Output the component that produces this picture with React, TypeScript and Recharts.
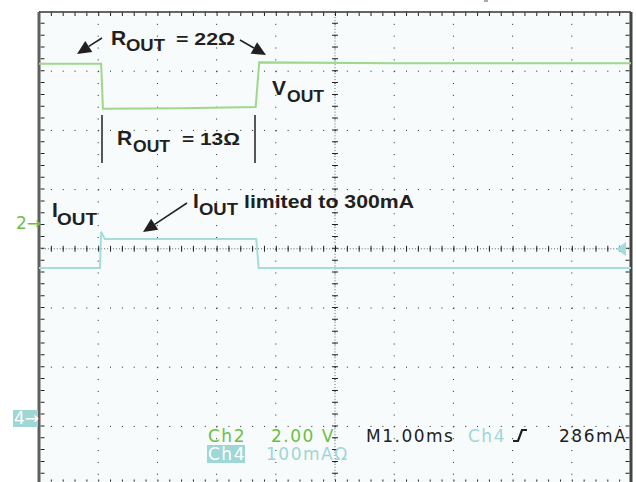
import React from 'react';
import { LineChart, Line, XAxis, YAxis, CartesianGrid, ReferenceLine } from 'recharts';

// Time base: 1.00 ms/div, 10 divisions
const timeTicks = [0, 1, 2, 3, 4, 5, 6, 7, 8, 9, 10];
// Graticule rows: 8 vertical divisions, centered on 0
const divTicks = [-4, -3, -2, -1, 0, 1, 2, 3, 4];

// Ch2: VOUT (volts), 2.00 V/div
const voutTime = [0, 1.05, 1.08, 2.4, 3.66, 3.72, 6.0, 10];
const voutVolts = [5.36, 5.36, 3.84, 3.86, 3.9, 5.41, 5.38, 5.38];

// Ch4: IOUT (mA), 100 mA/div
const ioutTime = [0, 1.03, 1.05, 1.11, 3.67, 3.71, 10];
const ioutMilliamps = [252, 252, 313, 301, 301, 252, 252];

const CH2_V_PER_DIV = 2;
const CH2_OFFSET_DIV = 0.444;
const CH4_MA_PER_DIV = 100;
const CH4_OFFSET_DIV = -2.843;

const voutData = voutTime.map((t, i) => ({ t, v: voutVolts[i] }));
const ioutData = ioutTime.map((t, i) => ({ t, i: ioutMilliamps[i] }));

const vDomain = [(-4 - CH2_OFFSET_DIV) * CH2_V_PER_DIV, (4 - CH2_OFFSET_DIV) * CH2_V_PER_DIV];
const iDomain = [(-4 - CH4_OFFSET_DIV) * CH4_MA_PER_DIV, (4 - CH4_OFFSET_DIV) * CH4_MA_PER_DIV];

const W = 636;
const H = 490;
const M = { top: 12, right: 5, bottom: 4.4, left: 39 };
const MINOR = 59.2 / 5;
const PX_DIV = 59.2;

const GREEN = '#9ed88c';
const CYAN = '#a6dcdc';
const GREEN_TXT = '#6cbf45';
const CYAN_TXT = '#9fd6d6';
const INK = '#231f20';

const ann = { fontFamily: '"Liberation Sans", Arial, sans-serif', fontWeight: 700, fill: INK } as const;
const scope = { fontFamily: '"DejaVu Sans", sans-serif', fontSize: 17, letterSpacing: 1.5 } as const;
const fit = { lengthAdjust: 'spacingAndGlyphs' } as const;

function Arrow({ x1, y1, x2, y2 }: { x1: number; y1: number; x2: number; y2: number }) {
  const dx = x2 - x1;
  const dy = y2 - y1;
  const len = Math.hypot(dx, dy);
  const ux = dx / len;
  const uy = dy / len;
  const hl = 14;
  const hw = 6.5;
  const bx = x2 - ux * hl;
  const by = y2 - uy * hl;
  return (
    <g>
      <line x1={x1} y1={y1} x2={bx} y2={by} stroke={INK} strokeWidth={1.5} />
      <polygon
        points={`${x2},${y2} ${bx - uy * hw},${by + ux * hw} ${bx + uy * hw},${by - ux * hw}`}
        fill={INK}
      />
    </g>
  );
}

const dash = `1 ${MINOR - 1}`;
const fine = `1 ${MINOR / 4 - 1}`;

export default function App() {
  return (
    <div style={{ position: 'absolute', left: 0, top: 0, width: 636, height: 482, overflow: 'hidden', background: '#fff' }}>
      <LineChart width={W} height={H} margin={M}>
        <XAxis xAxisId="t" type="number" dataKey="t" domain={[0, 10]} ticks={timeTicks} hide allowDataOverflow />
        <YAxis yAxisId="grid" type="number" domain={[-4, 4]} ticks={divTicks} hide allowDataOverflow />
        <YAxis yAxisId="v" type="number" domain={vDomain} hide allowDataOverflow />
        <YAxis yAxisId="i" type="number" domain={iDomain} hide allowDataOverflow />
        <CartesianGrid
          xAxisId="t"
          yAxisId="grid"
          stroke="#222"
          strokeDasharray={dash}
          fill="#f7fbfb"
        />
        {/* center crosshair, dotted with minor ticks */}
        <ReferenceLine xAxisId="t" yAxisId="grid" y={0} stroke="#333" strokeOpacity={0.75} strokeDasharray={fine} />
        <ReferenceLine xAxisId="t" yAxisId="grid" y={0} stroke="#222" strokeWidth={6} strokeDasharray={dash} />
        <ReferenceLine xAxisId="t" yAxisId="grid" x={5} stroke="#333" strokeOpacity={0.75} strokeDasharray={fine} />
        <ReferenceLine xAxisId="t" yAxisId="grid" x={5} stroke="#222" strokeWidth={6} strokeDasharray={dash} />
        {/* border minor ticks */}
        <ReferenceLine xAxisId="t" yAxisId="grid" y={4 - 2.5 / PX_DIV} stroke="#222" strokeWidth={3} strokeDasharray={dash} />
        <ReferenceLine xAxisId="t" yAxisId="grid" y={-4 + 5 / PX_DIV} stroke="#222" strokeWidth={2} strokeDasharray={dash} />
        <ReferenceLine xAxisId="t" yAxisId="grid" x={3.5 / PX_DIV} stroke="#222" strokeWidth={4} strokeDasharray={dash} />
        <ReferenceLine xAxisId="t" yAxisId="grid" x={10 - 3.5 / PX_DIV} stroke="#222" strokeWidth={4} strokeDasharray={dash} />
        {/* frame */}
        <ReferenceLine xAxisId="t" yAxisId="grid" y={4} stroke="#333" strokeWidth={1.5} />
        <ReferenceLine xAxisId="t" yAxisId="grid" x={0} stroke="#5f5f5f" strokeWidth={3} />
        <ReferenceLine xAxisId="t" yAxisId="grid" x={10} stroke="#444" strokeWidth={3} />
        <Line
          xAxisId="t"
          yAxisId="v"
          data={voutData}
          dataKey="v"
          type="linear"
          stroke={GREEN}
          strokeWidth={2}
          dot={false}
          isAnimationActive={false}
        />
        <Line
          xAxisId="t"
          yAxisId="i"
          data={ioutData}
          dataKey="i"
          type="linear"
          stroke={CYAN}
          strokeWidth={2}
          dot={false}
          isAnimationActive={false}
        />
      </LineChart>
      <svg
        width={636}
        height={482}
        style={{ position: 'absolute', left: 0, top: 0, pointerEvents: 'none' }}
      >
        {/* R_OUT = 22 Ohm */}
        <text x={111} y={45} fontSize={21} {...ann}>R</text>
        <text x={126} y={51} fontSize={17} textLength={39} {...fit} {...ann}>OUT</text>
        <text x={176} y={45} fontSize={16.5} textLength={59} {...fit} {...ann}>= 22Ω</text>
        <Arrow x1={102} y1={38} x2={77} y2={54} />
        <Arrow x1={240} y1={40} x2={266} y2={55} />
        {/* V_OUT */}
        <text x={272} y={95} fontSize={21} {...ann}>V</text>
        <text x={287} y={101.5} fontSize={17} textLength={37} {...fit} {...ann}>OUT</text>
        {/* R_OUT = 13 Ohm */}
        <line x1={102} y1={115} x2={102} y2={163} stroke={INK} strokeWidth={1.5} />
        <line x1={255} y1={115} x2={255} y2={163} stroke={INK} strokeWidth={1.5} />
        <text x={117} y={145} fontSize={21} {...ann}>R</text>
        <text x={133} y={151.5} fontSize={17} textLength={37} {...fit} {...ann}>OUT</text>
        <text x={182} y={145} fontSize={16.5} textLength={58} {...fit} {...ann}>= 13Ω</text>
        {/* I_OUT */}
        <text x={52} y={217} fontSize={21} {...ann}>I</text>
        <text x={57} y={225} fontSize={17} textLength={40} {...fit} {...ann}>OUT</text>
        <text x={193} y={208} fontSize={21} {...ann}>I</text>
        <text x={199} y={215} fontSize={17} textLength={39} {...fit} {...ann}>OUT</text>
        <text x={244} y={208} fontSize={18.5} textLength={170} {...fit} {...ann}>limited to 300mA</text>
        <Arrow x1={187} y1={203} x2={143} y2={232} />
        {/* channel ground markers */}
        <text x={16} y={229} {...scope} letterSpacing={0} fill={GREEN_TXT}>2→</text>
        <rect x={13} y={410} width={25} height={17} fill={CYAN_TXT} />
        <text x={14} y={424} {...scope} letterSpacing={0} fill="#fff">4→</text>
        {/* trigger level and position markers */}
        <polygon points="616,249 626,242 626,256" fill={CYAN} />
        <rect x={484} y={0} width={4} height={2} fill="#aaa" />
        {/* status bar */}
        <text x={208} y={441.7} {...scope} fill={GREEN_TXT}>Ch2</text>
        <text x={271} y={441.7} {...scope} fill={GREEN_TXT}>2.00 V</text>
        <text x={366} y={441.7} {...scope} fill={INK}>M1.00ms</text>
        <text x={468} y={441.7} {...scope} fill={CYAN_TXT}>Ch4</text>
        <path d="M513,441 L518,441 L522,430 L527,430" stroke={INK} strokeWidth={2.2} fill="none" />
        <text x={559} y={441.7} {...scope} fill={INK}>286mA</text>
        <rect x={207} y={445} width={38} height={18} fill={CYAN_TXT} />
        <text x={208} y={460} {...scope} fill="#fff">Ch4</text>
        <text x={266} y={460} {...scope} fill={CYAN_TXT}>100mAΩ</text>
      </svg>
    </div>
  );
}
